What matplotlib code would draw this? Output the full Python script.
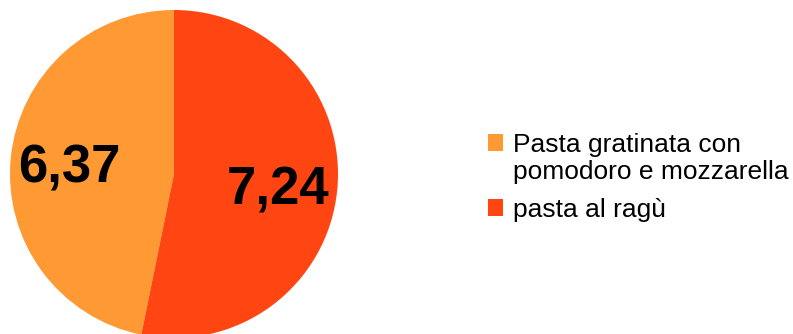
import matplotlib
matplotlib.use("Agg")
import matplotlib.pyplot as plt
from matplotlib.patches import Rectangle
from matplotlib.legend_handler import HandlerPatch

labels = ["Pasta gratinata con\npomodoro e mozzarella", "pasta al ragù"]
values = [6.37, 7.24]
colors = ["#FF9933", "#FF4512"]

plt.rcParams['font.family'] = ['Liberation Sans', 'DejaVu Sans']

W, H = 793, 334
fig = plt.figure(figsize=(W / 100, H / 100), dpi=100)
cx, cy, r = 174, 174, 164
ax = fig.add_axes([(cx - r) / W, (H - cy - r) / H, 2 * r / W, 2 * r / H])

def fmt(p):
    v = p * sum(values) / 100
    return f"{v:.2f}".replace(".", ",")

wedges, texts, autotexts = ax.pie(values, colors=colors, startangle=90, counterclock=True,
                                  autopct=fmt, pctdistance=0.64,
                                  wedgeprops=dict(linewidth=0),
                                  textprops=dict(fontsize=38, fontweight='bold', color='black'))
for t in autotexts:
    t.set_va('center_baseline')
ax.set_xlim(-1, 1)
ax.set_ylim(-1, 1)
ax.set_aspect('equal')
ax.axis('off')

FS = 19

def make_rect(dy):
    def f(legend, orig_handle, xdescent, ydescent, width, height, fontsize):
        return Rectangle((-xdescent, -ydescent + dy * fontsize), width, height)
    return f

hmap = {wedges[0]: HandlerPatch(patch_func=make_rect(0.6)),
        wedges[1]: HandlerPatch(patch_func=make_rect(0.0))}

leg = fig.legend(wedges, labels, loc='upper left', bbox_to_anchor=(477 / W, 1 - 122 / H),
                 frameon=False, fontsize=FS, handlelength=0.6, handleheight=0.6,
                 handletextpad=0.38, labelspacing=0.5, borderaxespad=0, handler_map=hmap)

fig.savefig("out.png", dpi=100)
